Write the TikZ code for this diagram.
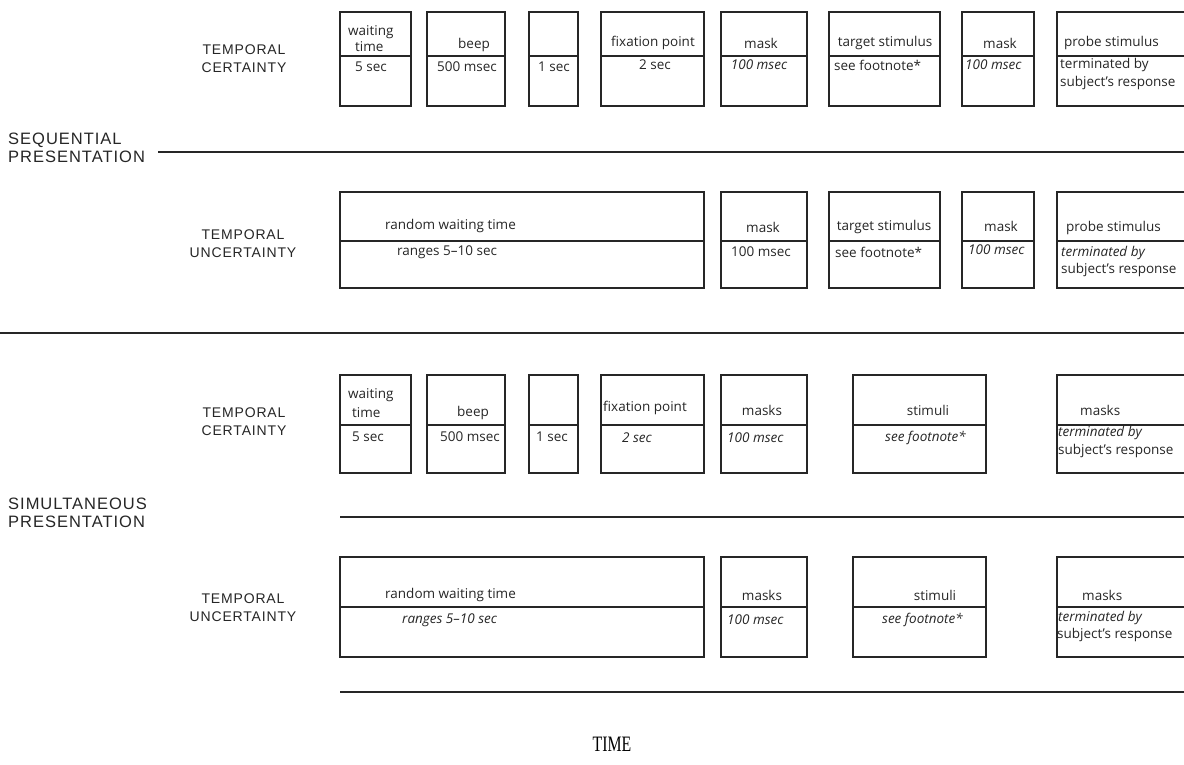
\documentclass[tikz,border=0pt]{standalone}
\usepackage{fontspec}
\setmainfont{Open Sans}
\newfontfamily\capsfont{Liberation Sans}[LetterSpace=6]
\newfontfamily\timefont{Liberation Serif}
\newcommand\tlbox[6]{% name, x1, x2, top, divider, bottom
  \node[box, anchor=north west, minimum width={#3-#2}, minimum height={#6-#4}] (#1) at (#2,#4) {};
  \draw[divline] (#2,#5) -- (#3,#5);
}
\begin{document}
\begin{tikzpicture}[x=1pt,y=-1pt,
  box/.style={draw=black!85, line width=1.4pt, inner sep=0pt, outer sep=0pt},
  divline/.style={draw=black!85, line width=1.8pt},
  sepline/.style={draw=black!85, line width=2.8pt},
  t/.style={font=\fontsize{13.5}{16}\selectfont, inner sep=0pt, text=black!85},
  ti/.style={t, font=\fontsize{13.5}{16}\selectfont\itshape},
  cond/.style={font=\capsfont\fontsize{14}{18}\selectfont, align=center, inner sep=0pt, text=black!85},
  pres/.style={font=\capsfont\fontsize{16.5}{18}\selectfont, align=left, inner sep=0pt, anchor=west, text=black!85}]
\useasboundingbox (0,0) rectangle (1184,764);
\clip (0,0) rectangle (1184,764);
\fill[white] (0,0) rectangle (1184,764);

% ---------- labels ----------
\node[pres] (seq) at (8,148) {SEQUENTIAL\\PRESENTATION};
\node[pres] (sim) at (8,513) {SIMULTANEOUS\\PRESENTATION};
\node[cond] (c1) at (244,59) {TEMPORAL\\CERTAINTY};
\node[cond] (c2) at (243,244) {TEMPORAL\\UNCERTAINTY};
\node[cond] (c3) at (244,422) {TEMPORAL\\CERTAINTY};
\node[cond] (c4) at (243,608) {TEMPORAL\\UNCERTAINTY};

% ---------- separator lines ----------
\coordinate (l1a) at (158,152); \coordinate (l1b) at (1184,152);
\coordinate (l2a) at (0,333);   \coordinate (l2b) at (1184,333);
\coordinate (l3a) at (340,517); \coordinate (l3b) at (1184,517);
\coordinate (l4a) at (340,692); \coordinate (l4b) at (1184,692);
\draw[sepline] (l1a) -- (l1b);
\draw[sepline] (l2a) -- (l2b);
\draw[sepline] (l3a) -- (l3b);
\draw[sepline] (l4a) -- (l4b);

\node[font=\timefont\fontsize{22}{22}\selectfont, xscale=0.72, inner sep=0pt] (time) at (612,744) {TIME};

% ---------- row 1: sequential, certainty ----------
\tlbox{r1a}{340}{411}{12}{56}{106}
\tlbox{r1b}{427}{505}{12}{56}{106}
\tlbox{r1c}{529}{578}{12}{56}{106}
\tlbox{r1d}{601}{704}{12}{56}{106}
\tlbox{r1e}{721}{807}{12}{56}{106}
\tlbox{r1f}{829}{940}{12}{56}{106}
\tlbox{r1g}{962}{1034}{12}{56}{106}
\tlbox{r1h}{1057}{1200}{12}{56}{106}
\node[t, anchor=west] (r1a1) at (348,32) {waiting};
\node[t, anchor=west] (r1a2) at (355,47) {time};
\node[t, anchor=west] (r1a3) at (355,67) {5 sec};
\node[t] (r1b1) at (474,45) {beep};
\node[t] (r1b2) at (467,67) {500 msec};
\node[t] (r1c2) at (554,67) {1 sec};
\node[t] (r1d1) at (653,43) {fixation point};
\node[t] (r1d2) at (655,65) {2 sec};
\node[t] (r1e1) at (761,43) {mask};
\node[ti] (r1e2) at (759,65) {100 msec};
\node[t] (r1f1) at (885,43) {target stimulus};
\node[t, anchor=west] (r1f2) at (834,65) {see footnote*};
\node[t] (r1g1) at (1000,43) {mask};
\node[ti, anchor=west] (r1g2) at (965,65) {100 msec};
\node[t, anchor=west] (r1h1) at (1064,43) {probe stimulus};
\node[t, anchor=west] (r1h2) at (1060,65) {terminated by};
\node[t, anchor=west] (r1h3) at (1060,83) {subject's response};

% ---------- row 2: sequential, uncertainty ----------
\tlbox{r2a}{340}{704}{192}{241}{288}
\tlbox{r2b}{721}{807}{192}{241}{288}
\tlbox{r2c}{829}{940}{192}{241}{288}
\tlbox{r2d}{962}{1034}{192}{241}{288}
\tlbox{r2e}{1057}{1200}{192}{241}{288}
\node[t, anchor=west] (r2a1) at (385,226) {random waiting time};
\node[t, anchor=west] (r2a2) at (397,252) {ranges 5--10 sec};
\node[t] (r2b1) at (763,227) {mask};
\node[t] (r2b2) at (761,252) {100 msec};
\node[t] (r2c1) at (884,227) {target stimulus};
\node[t, anchor=west] (r2c2) at (835,252) {see footnote*};
\node[t] (r2d1) at (1001,226) {mask};
\node[ti, anchor=west] (r2d2) at (968,250) {100 msec};
\node[t, anchor=west] (r2e1) at (1066,228) {probe stimulus};
\node[ti, anchor=west] (r2e2) at (1061,253) {terminated by};
\node[t, anchor=west] (r2e3) at (1061,270) {subject's response};

% ---------- row 3: simultaneous, certainty ----------
\tlbox{r3a}{340}{411}{375}{425}{473}
\tlbox{r3b}{427}{505}{375}{425}{473}
\tlbox{r3c}{529}{578}{375}{425}{473}
\tlbox{r3d}{601}{704}{375}{425}{473}
\tlbox{r3e}{721}{807}{375}{425}{473}
\tlbox{r3f}{853}{986}{375}{425}{473}
\tlbox{r3g}{1057}{1200}{375}{425}{473}
\node[t, anchor=west] (r3a1) at (348,395) {waiting};
\node[t, anchor=west] (r3a2) at (352,413) {time};
\node[t, anchor=west] (r3a3) at (352,437) {5 sec};
\node[t] (r3b1) at (473,413) {beep};
\node[t] (r3b2) at (470,437) {500 msec};
\node[t] (r3c2) at (552,437) {1 sec};
\node[t, anchor=west] (r3d1) at (603,408) {fixation point};
\node[ti, anchor=west] (r3d2) at (622,438) {2 sec};
\node[t] (r3e1) at (762,410) {masks};
\node[ti, anchor=west] (r3e2) at (727,438) {100 msec};
\node[t] (r3f1) at (928,410) {stimuli};
\node[ti, anchor=west] (r3f2) at (885,438) {see footnote*};
\node[t, anchor=west] (r3g1) at (1080,410) {masks};
\node[ti, anchor=west] (r3g2) at (1058,433) {terminated by};
\node[t, anchor=west] (r3g3) at (1058,451) {subject's response};

% ---------- row 4: simultaneous, uncertainty ----------
\tlbox{r4a}{340}{704}{557}{607}{657}
\tlbox{r4b}{721}{807}{557}{607}{657}
\tlbox{r4c}{853}{986}{557}{607}{657}
\tlbox{r4d}{1057}{1200}{557}{607}{657}
\node[t, anchor=west] (r4a1) at (385,595) {random waiting time};
\node[ti, anchor=west] (r4a2) at (402,620) {ranges 5--10 sec};
\node[t] (r4b1) at (762,595) {masks};
\node[ti, anchor=west] (r4b2) at (727,620) {100 msec};
\node[t] (r4c1) at (935,595) {stimuli};
\node[ti, anchor=west] (r4c2) at (882,620) {see footnote*};
\node[t, anchor=west] (r4d1) at (1082,595) {masks};
\node[ti, anchor=west] (r4d2) at (1058,618) {terminated by};
\node[t, anchor=west] (r4d3) at (1057,635) {subject's response};
\end{tikzpicture}
\end{document}
